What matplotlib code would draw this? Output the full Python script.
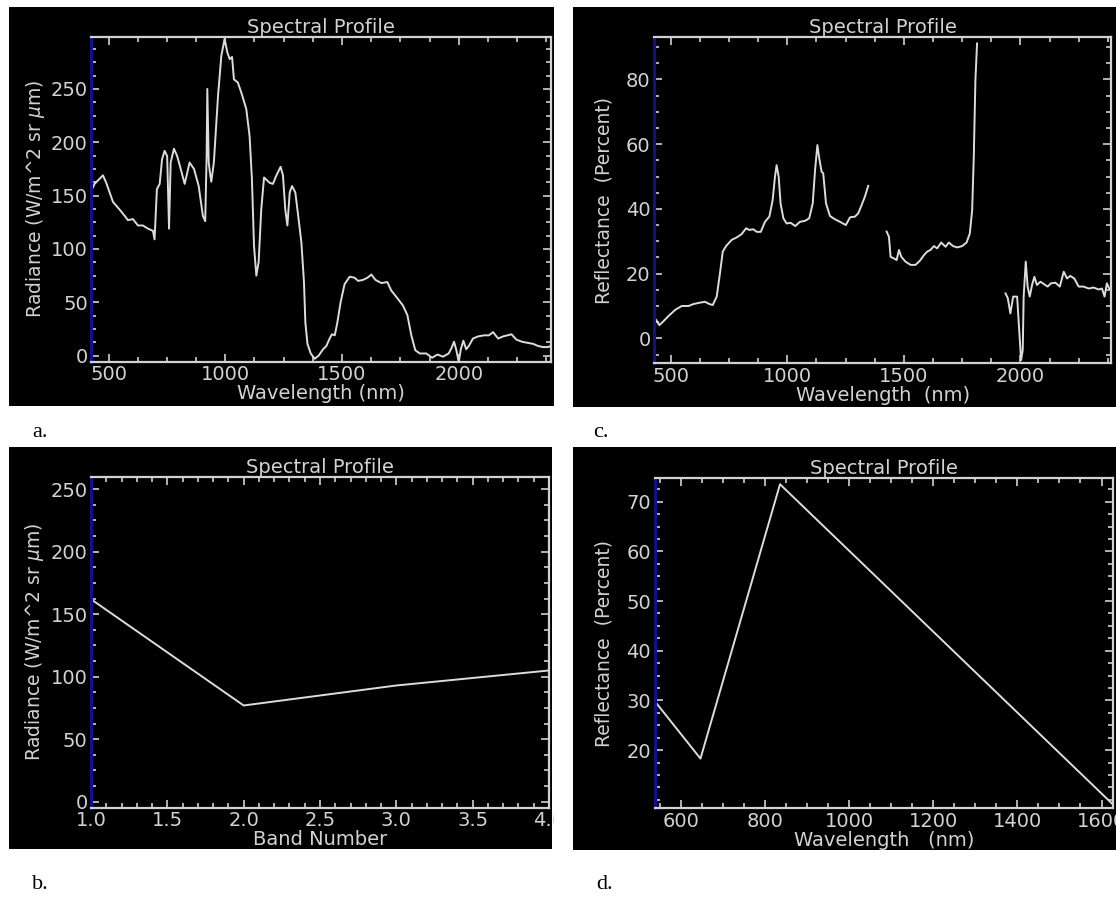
import numpy as np
import matplotlib
matplotlib.use("Agg")
import matplotlib.pyplot as plt
from matplotlib.patches import Rectangle
from matplotlib.ticker import MultipleLocator, AutoMinorLocator, FormatStrFormatter

# panel a: radiance spectrum
a_wl = [429, 440, 476, 490, 519, 547, 569, 583, 604, 626, 647, 669, 690, 697,
        707, 719, 729, 740, 751, 759, 766, 780, 794, 809, 826, 847, 866, 886,
        904, 914, 920, 923, 929, 934, 940, 951, 969, 983, 997, 1009, 1019, 1029,
        1037, 1054, 1071, 1090, 1104, 1114, 1123, 1133, 1143, 1154, 1166, 1190,
        1204, 1219, 1237, 1247, 1257, 1266, 1276, 1286, 1300, 1314, 1326, 1337,
        1343, 1352, 1366, 1383, 1400, 1419, 1433, 1447, 1457, 1469, 1480, 1494,
        1511, 1533, 1554, 1569, 1590, 1609, 1626, 1643, 1669, 1694, 1711, 1733,
        1761, 1780, 1797, 1814, 1833, 1861, 1886, 1909, 1933, 1957, 1969, 1980,
        1990, 2000, 2009, 2020, 2032, 2043, 2061, 2083, 2109, 2129, 2147, 2169,
        2190, 2209, 2226, 2247, 2271, 2294, 2319, 2340, 2361, 2383, 2394]
a_rad = [156, 161, 169, 162, 144, 137, 131, 127, 128, 122, 122, 119, 117, 109,
         156, 161, 184, 192, 187, 119, 181, 194, 187, 175, 161, 181, 175, 159,
         131, 126, 187, 250, 181, 172, 163, 181, 244, 281, 297, 284, 278, 280,
         259, 256, 245, 231, 206, 166, 103, 75, 88, 137, 167, 162,
         161, 169, 177, 169, 137, 122, 153, 159, 153, 128, 106, 69,
         31, 11, 2, -3, 0, 6, 9, 16, 20, 19, 31, 50,
         67, 74, 73, 70, 71, 73, 76, 71, 68, 69, 61, 55,
         47, 38, 19, 5, 2, 2, -2, 1, -1, 2, 7, 13,
         5, -6, 6, 14, 6, 9, 16, 18, 19, 19, 22, 16,
         18, 19, 20, 15, 13, 12, 11, 9, 8, 8, 9]

# panel b: four bands
b_band = [1, 2, 3, 4]
b_rad = [162, 77, 93, 105]

# panel c: reflectance spectrum, three pieces
c_wl_1 = [437, 451, 466, 490, 519, 547, 576, 597, 623, 647, 666, 680, 697, 711,
          723, 737, 761, 783, 804, 823, 837, 854, 869, 886, 904, 923, 937, 947,
          954, 963, 971, 983, 997, 1014, 1034, 1054, 1076, 1094, 1109, 1119,
          1129, 1137, 1147, 1154, 1166, 1183, 1204, 1226, 1251, 1269, 1290,
          1304, 1319, 1333, 1347]
c_refl_1 = [5.7, 4.1, 5.1, 6.9, 8.8, 10.0, 10.0, 10.6, 11.0, 11.3, 10.6, 10.3,
            12.9, 20.1, 26.8, 28.5, 30.4, 31.2, 32.2, 34.0, 33.5, 33.7, 32.9,
            32.9, 36.0, 37.6, 42.7, 49.9, 53.5, 49.9, 41.7, 37.1, 35.5, 35.7,
            34.7, 36.0, 36.3, 37.1, 41.7, 52.0, 59.7, 55.6, 51.5, 51.0, 41.7,
            37.8, 36.8, 36.0, 35.0, 37.4, 37.6, 38.6, 41.2, 43.8, 47.1]
c_wl_2 = [1426, 1436, 1443, 1457, 1469, 1479, 1489, 1507, 1529, 1550, 1569,
          1586, 1600, 1614, 1629, 1643, 1660, 1679, 1693, 1711, 1729, 1750,
          1769, 1783, 1793, 1800, 1807, 1814]
c_refl_2 = [33.0, 31.4, 25.2, 24.7, 24.2, 27.3, 25.2, 23.7, 22.7, 22.7, 24.0,
            25.7, 26.8, 27.3, 28.5, 27.8, 29.6, 28.3, 29.6, 28.5, 28.1, 28.5,
            29.6, 32.4, 39.6, 56.1, 79.8, 91.1]
c_wl_3 = [1936, 1946, 1957, 1969, 1986, 1993, 2003, 2010, 2014, 2023, 2031,
          2040, 2050, 2060, 2071, 2086, 2100, 2117, 2131, 2150, 2169, 2186,
          2200, 2214, 2231, 2250, 2271, 2293, 2314, 2336, 2350, 2361, 2371, 2381]
c_refl_3 = [13.9, 12.4, 7.7, 12.9, 12.9, 4.6, -6.7, -3.6, 12.9, 23.7, 16.0,
            12.9, 16.5, 19.0, 16.5, 17.5, 16.8, 16.0, 17.0, 17.2, 16.0, 20.6,
            18.5, 19.3, 18.5, 16.0, 16.0, 15.4, 15.7, 15.1, 15.4, 12.9, 17.0, 15.4]

# panel d: four multispectral bands
d_wl = [538, 647, 836, 1628]
d_refl = [29.9, 18.3, 73.5, 9.0]

W, H = 1116, 897
fg = "#d2d2d2"
line_c = "#dcdcdc"
fs = 14

fig = plt.figure(figsize=(W / 100, H / 100), dpi=100, facecolor="white")


def box(x0, y0, x1, y1):
    return [x0 / W, 1 - y1 / H, (x1 - x0) / W, (y1 - y0) / H]


def add_bg(x0, y0, x1, y1, color="black", z=-1):
    b = box(x0, y0, x1, y1)
    fig.patches.append(Rectangle((b[0], b[1]), b[2], b[3], transform=fig.transFigure,
                                 facecolor=color, edgecolor="none", zorder=z))


def style(ax, xlim, ylim, xmaj, ymaj, xn, yn):
    ax.set_facecolor("black")
    ax.set_xlim(*xlim)
    ax.set_ylim(*ylim)
    ax.xaxis.set_major_locator(MultipleLocator(xmaj))
    ax.yaxis.set_major_locator(MultipleLocator(ymaj))
    ax.xaxis.set_minor_locator(AutoMinorLocator(xn))
    ax.yaxis.set_minor_locator(AutoMinorLocator(yn))
    for s in ax.spines.values():
        s.set_color(fg)
        s.set_linewidth(1.6)
    ax.spines["left"].set_color("#10108c")
    ax.spines["left"].set_linewidth(2.2)
    ax.tick_params(which="both", direction="in", top=True, right=True,
                   colors=fg, labelsize=fs, pad=2.5)
    ax.tick_params(which="major", length=6, width=1.2)
    ax.tick_params(which="minor", length=3.5, width=1.2)
    ax.set_title("Spectral Profile", color=fg, fontsize=fs, pad=2)


add_bg(8.6, 7.3, 553.6, 406)
add_bg(572.5, 7, 1116, 407)
add_bg(8.6, 447, 552, 849)
add_bg(572.5, 447, 1116, 850)

# a
ax = fig.add_axes(box(91.3, 36.7, 550.7, 362))
style(ax, (426, 2394), (-6, 299), 500, 50, 4, 4)
ax.plot(a_wl, a_rad, color=line_c, lw=1.4)
ax.set_xlabel("Wavelength (nm)", color=fg, fontsize=fs, labelpad=0)
ax.set_ylabel("Radiance (W/m^2 sr $\\mu$m)", color=fg, fontsize=fs - 0.5, labelpad=3)

# c
ax = fig.add_axes(box(654, 37.3, 1111.3, 363.3))
style(ax, (428, 2390), (-7.7, 93), 500, 20, 4, 4)
c_wl = c_wl_1 + [np.nan] + c_wl_2 + [np.nan] + c_wl_3
c_refl = c_refl_1 + [np.nan] + c_refl_2 + [np.nan] + c_refl_3
ax.plot(c_wl, c_refl, color=line_c, lw=1.4)
ax.set_xlabel("Wavelength  (nm)", color=fg, fontsize=fs, labelpad=0)
ax.set_ylabel("Reflectance  (Percent)", color=fg, fontsize=fs - 0.5, labelpad=9)

# b
ax = fig.add_axes(box(91, 476.7, 549, 808))
style(ax, (1.0, 4.0), (-5, 260), 0.5, 50, 5, 4)
ax.xaxis.set_major_formatter(FormatStrFormatter("%.1f"))
ax.plot(b_band, b_rad, color=line_c, lw=1.4)
ax.set_xlabel("Band Number", color=fg, fontsize=fs, labelpad=0)
ax.set_ylabel("Radiance (W/m^2 sr $\\mu$m)", color=fg, fontsize=fs - 0.5, labelpad=3)

# d
ax = fig.add_axes(box(654.6, 478.3, 1113.3, 808.3))
style(ax, (538, 1628), (8.3, 74.7), 200, 10, 4, 4)
ax.set_yticks([20, 30, 40, 50, 60, 70])
ax.yaxis.set_minor_locator(AutoMinorLocator(4))
ax.plot(d_wl, d_refl, color=line_c, lw=1.4)
ax.set_xlabel("Wavelength   (nm)", color=fg, fontsize=fs, labelpad=0)
ax.set_ylabel("Reflectance  (Percent)", color=fg, fontsize=fs - 0.5, labelpad=9)

# white gap between columns hides labels that spill out of the panels
add_bg(553.6, 0, 572.5, H, color="white", z=5)

for lab, x, y in [("a.", 40, 432), ("c.", 601, 432), ("b.", 40, 884), ("d.", 605, 884)]:
    fig.text(x / W, 1 - y / H, lab, family="Liberation Serif", fontsize=16,
             ha="center", va="center", color="black")

fig.savefig("out.png", dpi=100, facecolor="white")
